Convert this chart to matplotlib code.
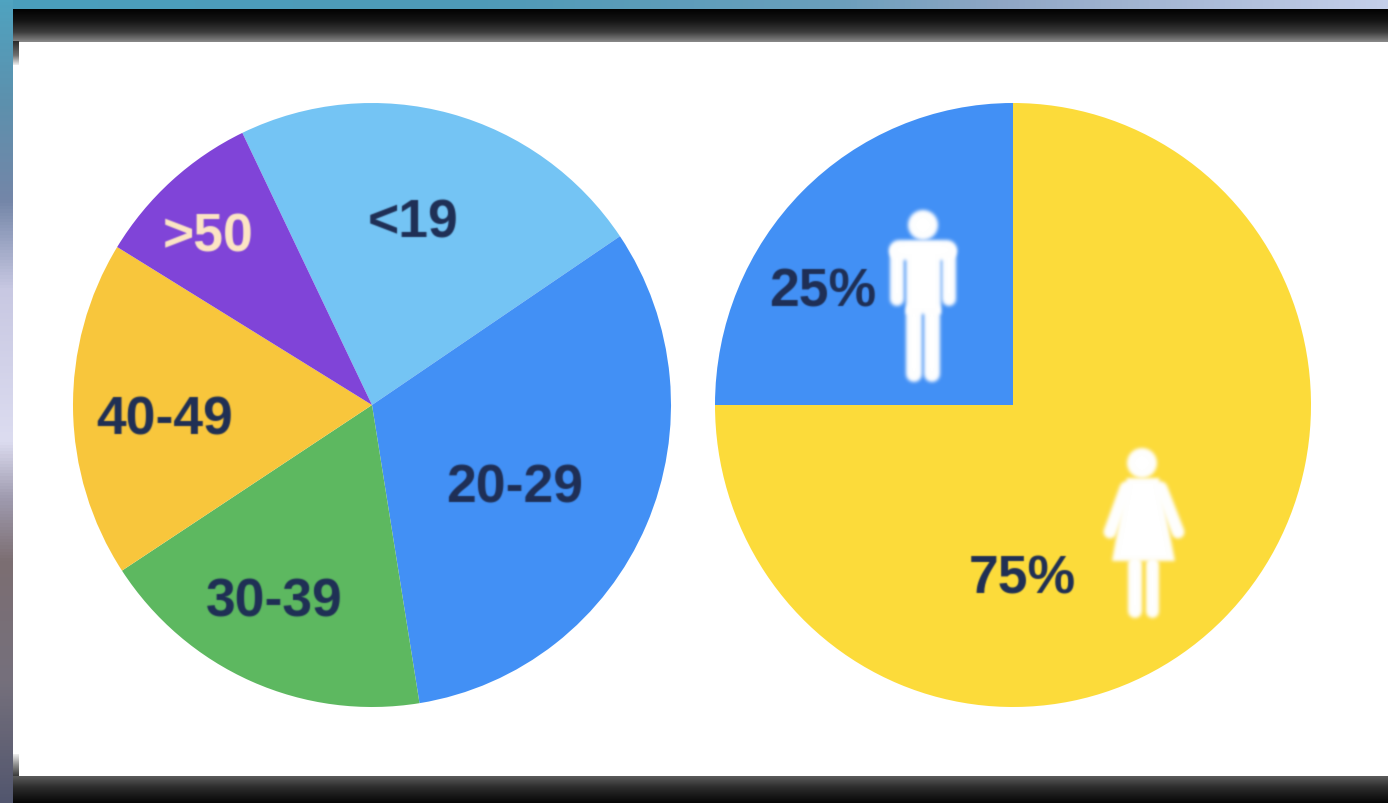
#! /usr/bin/python3

import numpy as np
from matplotlib import pyplot as plt
from matplotlib.colors import LinearSegmentedColormap
from matplotlib.patches import Circle, Polygon, Rectangle

# Data
age_labels = ["<19", "20-29", "30-39", "40-49", ">50"]
age_values = [22.7, 31.9, 18.3, 18.0, 9.1]
age_colors = ["#74c4f4", "#4290f5", "#5db860", "#f8c63c", "#8044d8"]

gender_labels = ["25%", "75%"]
gender_values = [25, 75]
gender_colors = ["#4290f5", "#fcdb3a"]

W, H = 1388, 804
TEXT_DARK = "#1f2f55"

plt.rcParams['font.family'] = ['Liberation Sans', 'DejaVu Sans']


def gradient(ax, extent, stops, horizontal=True, zorder=1):
    # Stops are (position, colour) along the strip
    cmap = LinearSegmentedColormap.from_list("strip", stops)
    ramp = np.linspace(0, 1, 256)
    ramp = ramp[np.newaxis, :] if horizontal else ramp[:, np.newaxis]
    ax.imshow(ramp, cmap=cmap, extent=extent, aspect='auto', zorder=zorder, vmin=0, vmax=1)


def pie_axes(fig, cx, cy, rx, ry):
    # The pies in the picture are a little taller than wide
    ax = fig.add_axes([(cx - rx) / W, 1 - (cy + ry) / H, 2 * rx / W, 2 * ry / H])
    return ax


def finish_pie(ax):
    ax.set_aspect('auto')
    ax.set_xlim(-1, 1)
    ax.set_ylim(-1, 1)
    ax.axis('off')


def make_blur(sigma):
    # agg filter, the reference is a soft screenshot
    pad = int(3 * sigma) + 1
    kernel = np.exp(-0.5 * (np.arange(-pad, pad + 1) / sigma) ** 2)
    kernel = kernel / kernel.sum()

    def smooth(channel):
        channel = np.apply_along_axis(np.convolve, 0, channel, kernel, mode='same')
        return np.apply_along_axis(np.convolve, 1, channel, kernel, mode='same')

    def blur(img, dpi):
        padded = np.pad(img, ((pad, pad), (pad, pad), (0, 0)))
        alpha = padded[..., 3]
        soft_alpha = smooth(alpha)
        out = np.zeros_like(padded)
        for i in range(3):
            out[..., i] = smooth(padded[..., i] * alpha) / np.maximum(soft_alpha, 1e-4)
        out[..., :3] = np.clip(out[..., :3], 0, 1)
        out[..., 3] = np.clip(soft_alpha, 0, 1)
        return out, -pad, -pad

    return blur


icon_blur = make_blur(1.8)
text_blur = make_blur(0.7)


def limb(ax, points, width):
    # Round capped white stroke, width in pixels
    xs = [p[0] for p in points]
    ys = [p[1] for p in points]
    line, = ax.plot(xs, ys, color='white', lw=width * 0.72, solid_capstyle='round')
    line.set_agg_filter(icon_blur)


def blob(ax, patch):
    patch.set(facecolor='white', edgecolor='none')
    patch.set_agg_filter(icon_blur)
    ax.add_patch(patch)


fig = plt.figure(figsize=(W / 100, H / 100), dpi=100, facecolor='white')

# Frame behind the charts
bg = fig.add_axes([0, 0, 1, 1])
gradient(bg, (0, W, 10, 0), [(0, "#4a9fbd"), (0.35, "#4f9ab8"), (0.6, "#6a9fbc"),
                             (0.72, "#8fa6c4"), (1, "#c4cfea")])
gradient(bg, (0, 13, 804, 0), [(0, "#4fa3c0"), (0.13, "#5d90ad"), (0.25, "#7486a8"),
                               (0.36, "#c8c8e2"), (0.55, "#dcdcf0"), (0.62, "#a09cb0"),
                               (0.7, "#7c6e72"), (0.85, "#75707c"), (1, "#52566e")],
         horizontal=False)
gradient(bg, (13, W, 42.5, 10), [(0, "#020202"), (0.35, "#141414"), (0.7, "#3c3c3c"),
                                 (1, "#8a8a8a")], horizontal=False)
gradient(bg, (13, W, 804, 777), [(0, "#5c5c5c"), (0.4, "#2e2e2e"), (1, "#060606")],
         horizontal=False)
bg.add_patch(Rectangle((13, 42.5), W - 13, 734.5, facecolor='white', edgecolor='none', zorder=2))
gradient(bg, (13, 19, 66, 42.5), [(0, "#2a2a2a"), (0.6, "#707070"), (1, "#f0f0f0")],
         horizontal=False, zorder=3)
gradient(bg, (13, 19, 777, 755), [(0, "#f0f0f0"), (0.5, "#8c8c8c"), (1, "#3a3a3a")],
         horizontal=False, zorder=3)
bg.set_xlim(0, W)
bg.set_ylim(H, 0)
bg.axis('off')

# Age pie
ax1 = pie_axes(fig, 372, 406, 299, 302)
ax1.pie(age_values, colors=age_colors, startangle=115.7, counterclock=False, radius=1)
finish_pie(ax1)

# Gender pie
ax2 = pie_axes(fig, 1013, 406, 298, 302)
ax2.pie(gender_values, colors=gender_colors, startangle=180, counterclock=False, radius=1)
finish_pie(ax2)

# Labels and icons on top, in pixel coordinates
top = fig.add_axes([0, 0, 1, 1])
top.patch.set_alpha(0)

age_pos = [(413, 224), (515, 489), (274, 603), (165, 421), (208, 237)]
age_text_colors = [TEXT_DARK, TEXT_DARK, TEXT_DARK, TEXT_DARK, "#fde6c4"]
for label, pos, col in zip(age_labels, age_pos, age_text_colors):
    t = top.text(pos[0], pos[1], label, ha='center', va='center', fontsize=38.5,
                 fontweight='bold', color=col)
    t.set_agg_filter(text_blur)

gender_pos = [(823, 293), (1022, 580)]
for label, pos in zip(gender_labels, gender_pos):
    t = top.text(pos[0], pos[1], label, ha='center', va='center', fontsize=38.5,
                 fontweight='bold', color=TEXT_DARK)
    t.set_agg_filter(text_blur)

# Man
blob(top, Circle((923, 226), 15))
limb(top, [(897, 253), (897, 300)], 14)
limb(top, [(949, 253), (949, 300)], 14)
limb(top, [(899, 251), (947, 251)], 20)
blob(top, Rectangle((906, 245), 35, 70))
limb(top, [(914, 312), (914, 375)], 16)
limb(top, [(932, 312), (932, 375)], 16)

# Woman
blob(top, Circle((1142, 464), 15))
limb(top, [(1126, 489), (1110, 533)], 13)
limb(top, [(1161, 489), (1178, 533)], 13)
blob(top, Polygon([(1127, 479), (1159, 479), (1163, 500), (1175, 562), (1112, 562), (1123, 500)]))
limb(top, [(1135, 565), (1135, 612)], 14)
limb(top, [(1152.5, 565), (1152.5, 612)], 13)

top.set_xlim(0, W)
top.set_ylim(H, 0)
top.axis('off')

fig.savefig("out.png", dpi=100)
